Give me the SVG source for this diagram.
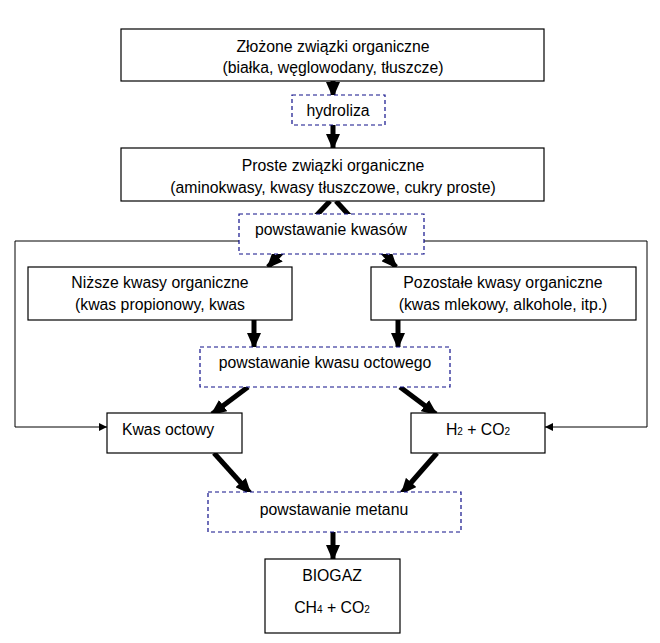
<svg xmlns="http://www.w3.org/2000/svg" width="660" height="643" viewBox="0 0 660 643">
<style>
.b{fill:#fff;stroke:#000;stroke-width:1.2}
.d{fill:#fff;stroke:#10108a;stroke-width:1.2;stroke-dasharray:4,3}
text{font-family:"Liberation Sans",Arial,sans-serif;font-size:15.8px;fill:#000;text-anchor:middle}
.t{stroke:#000;stroke-width:5;fill:none;marker-end:url(#ah)}
.n{stroke:#000;stroke-width:1;fill:none;marker-end:url(#as)}
</style>
<defs>
<marker id="ah" markerUnits="userSpaceOnUse" markerWidth="16" markerHeight="14" refX="14" refY="7" orient="auto"><path d="M0,0L16,7L0,14z" fill="#000"/></marker>
<marker id="as" markerUnits="userSpaceOnUse" markerWidth="8" markerHeight="8" refX="8" refY="4" orient="auto"><path d="M0,0L8,4L0,8z" fill="#000"/></marker>
</defs>
<g id="connectors">
<line class="t" x1="333" y1="81" x2="333" y2="96"/>
<line class="t" x1="333" y1="125" x2="333" y2="148"/>
<line class="t" x1="330" y1="201" x2="268" y2="267"/>
<line class="t" x1="336" y1="201" x2="396" y2="267"/>
<line class="t" x1="254" y1="320" x2="254" y2="347"/>
<line class="t" x1="398" y1="320" x2="398" y2="347"/>
<line class="t" x1="248" y1="387" x2="212" y2="414"/>
<line class="t" x1="400" y1="387" x2="436" y2="414"/>
<line class="t" x1="214" y1="453" x2="250" y2="493"/>
<line class="t" x1="437" y1="453" x2="402" y2="493"/>
<line class="t" x1="333" y1="532" x2="333" y2="559"/>
<polyline class="n" points="239,241 15,241 15,427 107,427"/>
<polyline class="n" points="424,241 647,241 647,427 545,427"/>
</g>
<g id="n1"><rect class="b" x="121" y="29" width="423" height="52"/><text x="333" y="52">Złożone związki organiczne</text><text x="333" y="73">(białka, węglowodany, tłuszcze)</text></g>
<g id="hydroliza"><rect class="d" x="292" y="95" width="93" height="30"/><text x="338" y="116">hydroliza</text></g>
<g id="n2"><rect class="b" x="121" y="148" width="423" height="53"/><text x="333" y="171">Proste związki organiczne</text><text x="333" y="193">(aminokwasy, kwasy tłuszczowe, cukry proste)</text></g>
<g id="kwasow"><rect class="d" x="239" y="214" width="185" height="40"/><text x="331" y="235">powstawanie kwasów</text></g>
<g id="nizsze"><rect class="b" x="28" y="267" width="264" height="53"/><text x="160" y="288">Niższe kwasy organiczne</text><text x="160" y="310">(kwas propionowy, kwas</text></g>
<g id="pozostale"><rect class="b" x="371" y="267" width="265" height="53"/><text x="503" y="288">Pozostałe kwasy organiczne</text><text x="503" y="310">(kwas mlekowy, alkohole, itp.)</text></g>
<g id="octowego"><rect class="d" x="200" y="347" width="250" height="40"/><text x="325" y="368">powstawanie kwasu octowego</text></g>
<g id="octowy"><rect class="b" x="107" y="413" width="135" height="40"/><text x="168" y="435">Kwas octowy</text></g>
<g id="h2co2"><rect class="b" x="411" y="413" width="134" height="40"/><text x="478" y="435">H<tspan font-size="10">2</tspan> + CO<tspan font-size="10">2</tspan></text></g>
<g id="metanu"><rect class="d" x="208" y="492" width="253" height="40"/><text x="334" y="515">powstawanie metanu</text></g>
<g id="biogaz"><rect class="b" x="265" y="559" width="135" height="74"/><text x="332" y="581">BIOGAZ</text><text x="332" y="613">CH<tspan font-size="10">4</tspan> + CO<tspan font-size="10">2</tspan></text></g>
</svg>
